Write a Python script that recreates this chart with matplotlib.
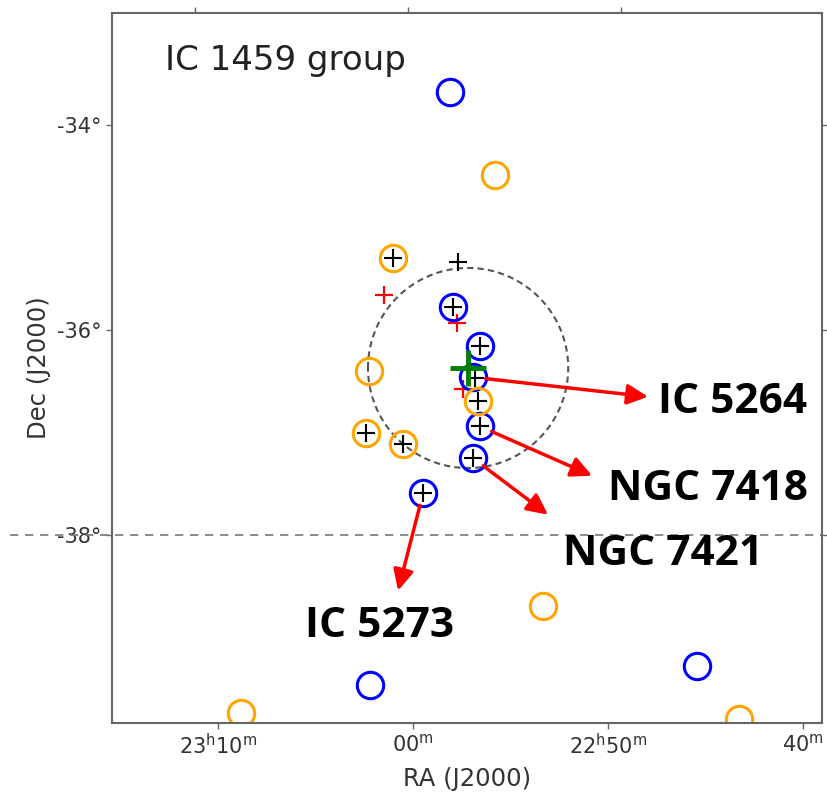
import numpy as np
import matplotlib.pyplot as plt
from matplotlib.transforms import blended_transform_factory

# RA given as minutes past 22h, Dec in degrees
blue_ra = [58.10, 57.95, 56.56, 56.92, 56.56, 56.92, 59.49, 62.21, 45.44]
blue_dec = [-33.68, -35.78, -36.16, -36.46, -36.94, -37.25, -37.59, -39.46, -39.27]

orange_ra = [55.79, 61.03, 62.26, 56.67, 62.41, 60.51, 53.33, 68.82, 43.28]
orange_dec = [-34.49, -35.30, -36.40, -36.69, -37.00, -37.11, -38.69, -39.73, -39.79]

black_ra = [61.03, 57.69, 57.95, 56.56, 56.82, 56.67, 56.56, 56.92, 62.41, 60.51, 59.49]
black_dec = [-35.30, -35.34, -35.78, -36.16, -36.47, -36.69, -36.94, -37.25, -37.00, -37.11, -37.59]

red_ra = [61.49, 57.74, 57.44]
red_dec = [-35.66, -35.93, -36.57]

center_ra, center_dec = 57.18, -36.37
group_radius = 0.975   # deg

# labelled galaxies: name, galaxy position, arrow tip, label position
names = ['IC 5264', 'NGC 7418', 'NGC 7421', 'IC 5273']
gal_ra = [56.92, 56.56, 56.92, 59.49]
gal_dec = [-36.46, -36.94, -37.25, -37.59]
tip_ra = [47.95, 50.82, 53.08, 60.77]
tip_dec = [-36.65, -37.42, -37.80, -38.54]
lab_ra = [47.44, 50.0, 52.31, 65.54]
lab_dec = [-36.81, -37.66, -38.29, -38.995]

xticks = [70, 60, 50, 40]
xticklabels = [r'$23^{\mathrm{h}}10^{\mathrm{m}}$', r'$00^{\mathrm{m}}$',
               r'$22^{\mathrm{h}}50^{\mathrm{m}}$', r'$40^{\mathrm{m}}$']
yticks = [-34, -36, -38]
yticklabels = ['-34°', '-36°', '-38°']

fig = plt.figure(figsize=(8.28, 7.96), dpi=100)
ax = fig.add_axes([0.1353, 0.0917, 0.8575, 0.892])
ax.set_xlim(75.44, 39.03)
ax.set_ylim(-39.83, -32.91)

for s in ax.spines.values():
    s.set_color('#666666')
    s.set_linewidth(1.5)

# group radius circle
t = np.linspace(0, 2 * np.pi, 300)
rx = group_radius / np.cos(np.radians(center_dec)) * 4 * 1.06
ax.plot(center_ra + rx * np.cos(t), center_dec + group_radius * np.sin(t),
        color='#555555', lw=1.5, ls=(0, (3, 2)))

# dec = -38 grid line running past the left spine
trans = blended_transform_factory(ax.transAxes, ax.transData)
ax.plot([-0.1437, 1.0], [-38, -38], transform=trans, clip_on=False,
        color='#777777', lw=1.2, ls=(0, (5, 4)))

ax.plot(red_ra, red_dec, '+', color='red', ms=13, mew=1.6)
ax.plot(blue_ra, blue_dec, 'o', mfc='none', mec='blue', ms=19, mew=2.2)
ax.plot(orange_ra, orange_dec, 'o', mfc='none', mec='orange', ms=19, mew=2.2)
ax.plot(black_ra, black_dec, '+', color='black', ms=13, mew=1.5)
ax.plot([center_ra], [center_dec], '+', color='green', ms=26, mew=3.5)

for name, gx, gy, tx, ty, lx, ly in zip(names, gal_ra, gal_dec, tip_ra, tip_dec, lab_ra, lab_dec):
    ax.annotate('', xy=(tx, ty), xytext=(gx, gy),
                arrowprops=dict(arrowstyle='-|>,head_length=0.45,head_width=0.22',
                                color='red', lw=2.5, mutation_scale=28,
                                shrinkA=9, shrinkB=0))
    ax.text(lx, ly, name, fontsize=30.5, fontweight='bold',
            family=['Open Sans', 'DejaVu Sans'],
            ha='left', va='baseline', color='black', clip_on=False)

ax.text(0.0746, 0.9197, 'IC 1459 group', transform=ax.transAxes,
        fontsize=24.5, color='#222222', ha='left', va='baseline')

ax.set_xticks(xticks)
ax.set_xticklabels(xticklabels)
ax.set_yticks(yticks)
ax.set_yticklabels(yticklabels)
ax.tick_params(direction='out', length=4, width=1, colors='#666666',
               labelcolor='#333333', labelsize=15, right=True)

# RA ticks along the top edge are spread by the projection
c, k = 57.2, 213 / 195
top = ax.secondary_xaxis('top', functions=(lambda x: c + (x - c) / k,
                                           lambda s: c + (s - c) * k))
top.set_xticks(xticks)
top.tick_params(direction='out', length=4, width=1, colors='#666666', labeltop=False)
top.spines['top'].set_visible(False)

ax.set_xlabel('RA (J2000)', fontsize=17.5, color='#333333', labelpad=6)
ax.set_ylabel('Dec (J2000)', fontsize=17.5, color='#333333', labelpad=4)

fig.savefig('out.png', dpi=100)
